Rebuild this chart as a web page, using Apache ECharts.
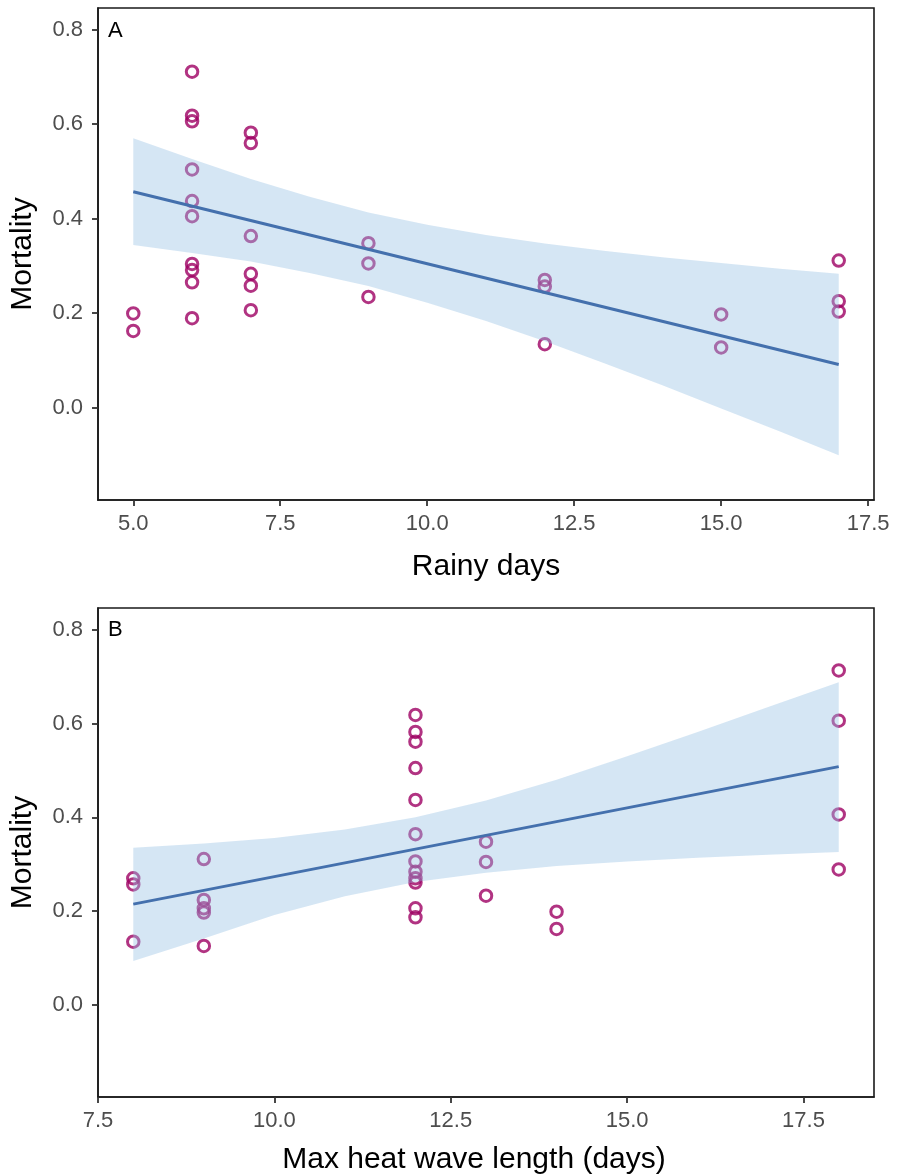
<!DOCTYPE html>
<html>
<head>
<meta charset="utf-8">
<script src="https://cdn.jsdelivr.net/npm/echarts@6/dist/echarts.min.js"></script>
<style>
  html, body { margin: 0; padding: 0; background: #fff; }
  #chart { width: 902px; height: 1176px; }
</style>
</head>
<body>
<div id="chart"></div>
<script>
// panel A: mortality vs rainy days
var rainyX = [5, 5, 6, 6, 6, 6, 6, 6, 6, 6, 6, 6, 7, 7, 7, 7, 7, 7, 9, 9, 9, 12, 12, 12, 15, 15, 17, 17, 17];
var rainyY = [0.199, 0.162, 0.711, 0.618, 0.606, 0.504, 0.437, 0.405, 0.304, 0.291, 0.265, 0.189,
              0.582, 0.560, 0.363, 0.283, 0.258, 0.206, 0.348, 0.305, 0.234, 0.270, 0.256, 0.134,
              0.197, 0.127, 0.311, 0.225, 0.203];
var fitAX = [5, 17];
var fitAY = [0.457, 0.091];
var ciAX = [5, 6, 7, 8, 9, 10, 11, 12, 13, 14, 15, 16, 17];
var ciALow = [0.344, 0.327, 0.309, 0.285, 0.257, 0.222, 0.183, 0.140, 0.094, 0.047, -0.002, -0.051, -0.101];
var ciAUp = [0.570, 0.526, 0.484, 0.446, 0.413, 0.387, 0.365, 0.347, 0.332, 0.318, 0.306, 0.294, 0.283];

// panel B: mortality vs max heat wave length
var heatX = [8, 8, 8, 9, 9, 9, 9, 9, 12, 12, 12, 12, 12, 12, 12, 12, 12, 12, 12, 12,
             13, 13, 13, 14, 14, 18, 18, 18, 18];
var heatY = [0.270, 0.257, 0.135, 0.311, 0.224, 0.206, 0.197, 0.126,
             0.618, 0.582, 0.561, 0.505, 0.437, 0.364, 0.306, 0.284, 0.270, 0.261, 0.206, 0.187,
             0.348, 0.305, 0.233, 0.199, 0.162, 0.713, 0.606, 0.406, 0.289];
var fitBX = [8, 18];
var fitBY = [0.215, 0.508];
var ciBX = [8, 9, 10, 11, 12, 13, 14, 15, 16, 17, 18];
var ciBLow = [0.094, 0.142, 0.192, 0.232, 0.262, 0.282, 0.296, 0.306, 0.314, 0.320, 0.326];
var ciBUp = [0.335, 0.344, 0.356, 0.374, 0.400, 0.436, 0.480, 0.530, 0.582, 0.635, 0.688];

var yTicks = [0.0, 0.2, 0.4, 0.6, 0.8];
var xTicksA = [5.0, 7.5, 10.0, 12.5, 15.0, 17.5];
var xTicksB = [7.5, 10.0, 12.5, 15.0, 17.5];

var pointColor = '#9e0063';
var fitColor = '#4470ad';
var ribbonFill = 'rgba(150,192,227,0.4)';
var frameColor = '#1a1a1a';
var font = '"Liberation Sans", Arial, sans-serif';

function pairs(xs, ys) {
	var out = [];
	for (var i = 0; i < xs.length; i++) {
		out.push([xs[i], ys[i]]);
	}
	return out;
}

function xAxisFor(idx, name, min, max, ticks, gap, shift) {
	return {
		type: 'value',
		gridIndex: idx,
		min: min,
		max: max,
		name: name,
		nameLocation: 'middle',
		nameGap: gap,
		nameTextStyle: { fontFamily: font, fontSize: 30, color: '#000', padding: [0, shift, 0, 0] },
		axisLine: { show: true, onZero: false, lineStyle: { color: frameColor, width: 1.6 } },
		axisTick: { show: true, customValues: ticks, length: 6, lineStyle: { color: '#333', width: 1.8 } },
		axisLabel: {
			customValues: ticks, margin: 13, fontFamily: font, fontSize: 22, color: '#4d4d4d',
			formatter: function (v) { return v.toFixed(1); }
		},
		splitLine: { show: false }
	};
}

function yAxisFor(idx) {
	return {
		type: 'value',
		gridIndex: idx,
		min: -0.196,
		max: 0.846,
		name: 'Mortality',
		nameLocation: 'middle',
		nameRotate: 90,
		nameGap: 60,
		nameTextStyle: { fontFamily: font, fontSize: 30, color: '#000' },
		axisLine: { show: true, onZero: false, lineStyle: { color: frameColor, width: 1.6 } },
		axisTick: { show: true, customValues: yTicks, length: 6, lineStyle: { color: '#333', width: 1.8 } },
		axisLabel: {
			customValues: yTicks, margin: 15, fontFamily: font, fontSize: 22, color: '#4d4d4d',
			formatter: function (v) { return v.toFixed(1); }
		},
		splitLine: { show: false }
	};
}

// points first, then ribbon (semi-transparent, on top), then fit line
function panelSeries(idx, px, py, cx, lo, up, fx, fy) {
	return [{
		type: 'scatter',
		xAxisIndex: idx, yAxisIndex: idx,
		z: 1,
		data: pairs(px, py),
		symbol: 'circle',
		symbolSize: 11.5,
		itemStyle: { color: 'rgba(0,0,0,0)', borderColor: pointColor, borderWidth: 3 },
		silent: true
	}, {
		type: 'custom',
		xAxisIndex: idx, yAxisIndex: idx,
		z: 3,
		data: [[cx[0], lo[0]]],
		renderItem: function (params, api) {
			var pts = [];
			for (var i = 0; i < cx.length; i++) {
				pts.push(api.coord([cx[i], up[i]]));
			}
			for (var j = cx.length - 1; j >= 0; j--) {
				pts.push(api.coord([cx[j], lo[j]]));
			}
			return {
				type: 'polygon',
				shape: { points: pts },
				style: { fill: ribbonFill }
			};
		},
		silent: true
	}, {
		type: 'line',
		xAxisIndex: idx, yAxisIndex: idx,
		z: 4,
		data: pairs(fx, fy),
		symbol: 'none',
		lineStyle: { color: fitColor, width: 3 },
		silent: true
	}];
}

var myChart = echarts.init(document.getElementById('chart'), null, { renderer: 'canvas' });
var option = {
	animation: false,
	backgroundColor: '#fff',
	title: [
		{ text: 'A', left: 108, top: 20, padding: 0, textStyle: { fontFamily: font, fontSize: 22, fontWeight: 'normal', color: '#000' } },
		{ text: 'B', left: 108, top: 619, padding: 0, textStyle: { fontFamily: font, fontSize: 22, fontWeight: 'normal', color: '#000' } }
	],
	grid: [
		{ left: 98, right: 28, top: 8, height: 492, show: true, borderColor: frameColor, borderWidth: 1.6, backgroundColor: 'transparent' },
		{ left: 98, right: 28, top: 608, height: 490, show: true, borderColor: frameColor, borderWidth: 1.6, backgroundColor: 'transparent' }
	],
	xAxis: [
		xAxisFor(0, 'Rainy days', 4.4, 17.6, xTicksA, 52, 0),
		xAxisFor(1, 'Max heat wave length (days)', 7.5, 18.5, xTicksB, 48, 24)
	],
	yAxis: [yAxisFor(0), yAxisFor(1)],
	series: panelSeries(0, rainyX, rainyY, ciAX, ciALow, ciAUp, fitAX, fitAY)
		.concat(panelSeries(1, heatX, heatY, ciBX, ciBLow, ciBUp, fitBX, fitBY))
};
myChart.setOption(option, true);
</script>
</body>
</html>
